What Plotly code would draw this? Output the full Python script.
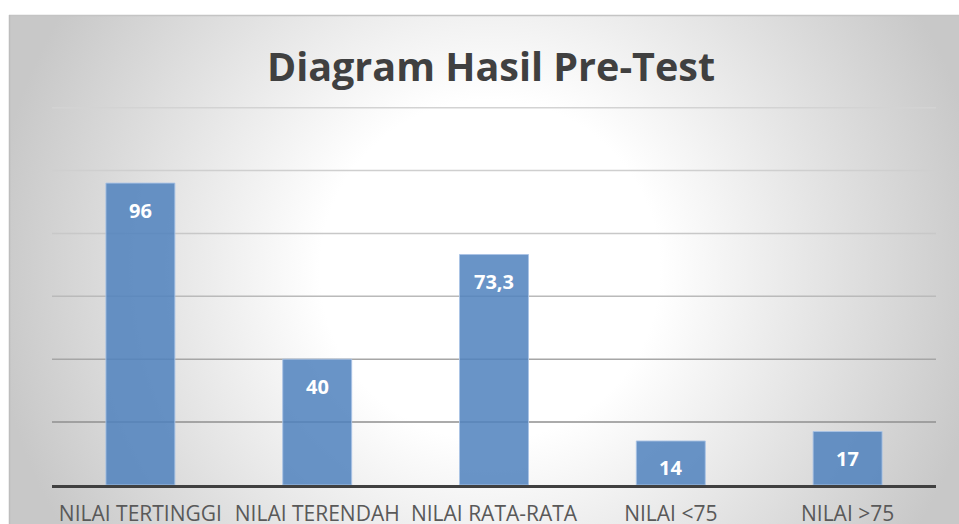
import plotly.graph_objects as go
from urllib.parse import quote

categories = ["NILAI TERTINGGI", "NILAI TERENDAH", "NILAI RATA-RATA", "NILAI <75", "NILAI >75"]
values = [96, 40, 73.3, 14, 17]
labels = ["96", "40", "73,3", "14", "17"]
grid_values = [20, 40, 60, 80, 100, 120]
grid_colors = ["#8f8f8f", "#a6a6a6", "#bababa", "#c8c8c8", "#cfcfcf", "#d3d3d3"]

W, H = 959, 524
L, R, T, B = 52, 23, 107, 39
pw, ph = W - L - R, H - T - B

def px_x(p):
    return (p - L) / pw

def px_y(p):
    return (H - B - p) / ph

svg = (
    '<svg xmlns="http://www.w3.org/2000/svg" width="950" height="509" viewBox="0 0 950 509" preserveAspectRatio="none">'
    '<defs><radialGradient id="g" cx="481" cy="255" r="500" gradientUnits="userSpaceOnUse">'
    '<stop offset="0" stop-color="#ffffff"/><stop offset="0.34" stop-color="#ffffff"/>'
    '<stop offset="1" stop-color="#c8c8c8"/></radialGradient></defs>'
    '<rect x="0" y="0" width="950" height="509" fill="url(#g)"/></svg>'
)
src = "data:image/svg+xml;charset=utf-8," + quote(svg)

fig = go.Figure()
fig.add_trace(go.Bar(
    x=categories, y=values,
    marker=dict(color="rgba(79,129,189,0.85)", line=dict(color="rgba(170,195,230,0.9)", width=1)),
    width=0.39,
    hoverinfo="skip",
))

for c, v, t in zip(categories, values, labels):
    fig.add_annotation(x=c, y=v, text="<b>%s</b>" % t, showarrow=False,
                       yanchor="middle", yshift=-27,
                       font=dict(family="Open Sans", size=20, color="white"))

for gv, gc in zip(grid_values, grid_colors):
    fig.add_shape(type="line", xref="paper", yref="y", x0=0, x1=1, y0=gv, y1=gv,
                  line=dict(color=gc, width=1.5), layer="below")

fig.add_layout_image(dict(source=src, xref="paper", yref="paper",
                          x=px_x(9), y=px_y(15), sizex=px_x(959) - px_x(9), sizey=px_y(15) - px_y(524),
                          xanchor="left", yanchor="top", sizing="stretch", layer="below"))

fig.add_shape(type="line", xref="paper", yref="paper", x0=px_x(9), x1=px_x(959), y0=px_y(15.5), y1=px_y(15.5),
              line=dict(color="#c4c4c4", width=1.5))
fig.add_shape(type="line", xref="paper", yref="paper", x0=px_x(9.5), x1=px_x(9.5), y0=px_y(15), y1=px_y(524),
              line=dict(color="#bdbdbd", width=1.5))

fig.update_layout(
    width=W, height=H,
    margin=dict(l=L, r=R, t=T, b=B, pad=0, autoexpand=False),
    paper_bgcolor="white",
    plot_bgcolor="rgba(0,0,0,0)",
    title=dict(text="<b>Diagram Hasil Pre-Test</b>", xref="container", x=491 / W, xanchor="center",
               yref="container", y=1 - 67 / H, yanchor="middle",
               font=dict(family="Open Sans", size=39.5, color="#404040")),
    showlegend=False,
    bargap=0.61,
)
fig.update_xaxes(showline=True, linecolor="#404040", linewidth=3, ticks="", automargin=False,
                 tickfont=dict(family="Open Sans", size=21, color="#595959"),
                 ticklabelstandoff=8, showgrid=False)
fig.update_yaxes(range=[0, 120.2], showticklabels=False, showgrid=False, automargin=False,
                 zeroline=False, showline=False)

fig.write_html(
    "out.html",
    config={"displayModeBar": False},
    post_script=(
        "document.documentElement.style.margin='0';document.documentElement.style.overflow='hidden';"
        "document.body.style.margin='0';document.body.style.overflow='hidden';"
    ),
)
